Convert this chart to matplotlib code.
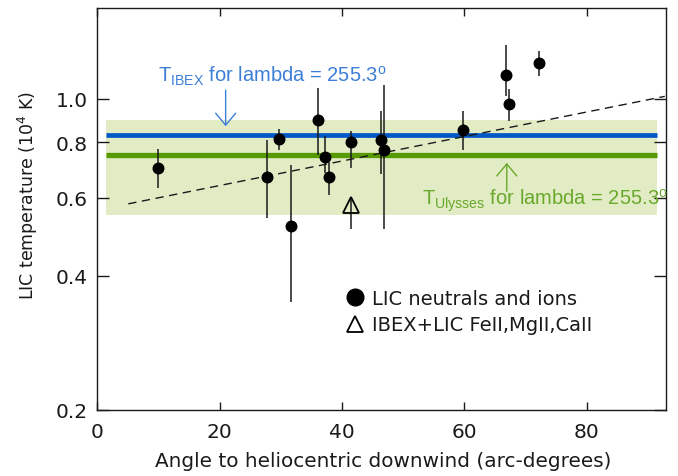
import matplotlib
matplotlib.use('Agg')
import matplotlib.pyplot as plt
from matplotlib.ticker import FixedLocator, NullLocator, FixedFormatter

plt.rcParams['mathtext.default'] = 'regular'

# LIC neutrals and ions: angle, temperature (1e4 K), error bounds
angle = [10.0, 27.8, 29.7, 31.7, 36.1, 37.2, 37.9, 41.4, 46.3, 46.9, 59.7, 66.8, 67.3, 72.2]
temp = [0.698, 0.669, 0.811, 0.519, 0.898, 0.739, 0.669, 0.799, 0.810, 0.769, 0.853, 1.130, 0.976, 1.205]
temp_lo = [0.631, 0.540, 0.766, 0.349, 0.749, 0.680, 0.607, 0.698, 0.679, 0.510, 0.769, 1.013, 0.890, 1.124]
temp_hi = [0.770, 0.810, 0.856, 0.709, 1.059, 0.824, 0.720, 0.849, 0.938, 1.077, 0.938, 1.318, 1.053, 1.284]

# IBEX+LIC FeII,MgII,CaII
tri_angle = [41.4]
tri_temp = [0.578]
tri_lo = [0.510]
tri_hi = [0.595]

# reference temperatures
t_ibex = 0.83
t_ulysses = 0.747
band_lo, band_hi = 0.547, 0.898
band_x = [1.5, 91.5]

# dashed trend line
fit_x = [5.1, 92.7]
fit_t = [0.581, 1.013]

yticks = [0.2, 0.4, 0.6, 0.8, 1.0]
ytick_labels = ['0.2', '0.4', '0.6', '0.8', '1.0']
xticks = [0, 20, 40, 60, 80]

blue = '#0058c8'
blue_txt = '#3d7fd6'
green = '#569a00'
green_txt = '#6aa82c'
ink = '#1a1a1a'
helv = 'Liberation Sans'

fig = plt.figure(figsize=(6.78, 4.77), dpi=100)
ax = fig.add_axes([0.1431, 0.1384, 0.8392, 0.8427])
ax.set_yscale('log')

ax.fill_between(band_x, band_lo, band_hi, color='#e2ecc4', lw=0, zorder=1)
ax.hlines(t_ibex, band_x[0], band_x[1], color=blue, lw=3.4, zorder=2)
ax.hlines(t_ulysses, band_x[0], band_x[1], color=green, lw=3.8, zorder=2)
ax.plot(fit_x, fit_t, color=ink, lw=1.0, dashes=(6, 4), zorder=3)

yerr = [[t - lo for t, lo in zip(temp, temp_lo)], [hi - t for t, hi in zip(temp, temp_hi)]]
ax.errorbar(angle, temp, yerr=yerr, fmt='none', ecolor=ink, elinewidth=1.1, capsize=0, zorder=4)
ax.plot(angle, temp, 'o', color='black', ms=7.6, zorder=5, label='LIC neutrals and ions')

tri_err = [[t - lo for t, lo in zip(tri_temp, tri_lo)], [hi - t for t, hi in zip(tri_temp, tri_hi)]]
ax.errorbar(tri_angle, tri_temp, yerr=tri_err, fmt='none', ecolor=ink, elinewidth=1.1, capsize=0, zorder=4)
ax.plot(tri_angle, tri_temp, '^', mfc='none', mec='black', mew=1.3, ms=11, zorder=5,
        label='IBEX+LIC FeII,MgII,CaII')

# annotations
ax.text(9.95, 1.094, r'T$_{IBEX}$ for lambda = 255.3$^{o}$', color=blue_txt, fontsize=14.5,
        family=helv, va='baseline', ha='left')
ax.annotate('', xy=(21.0, 0.868), xytext=(21.0, 1.046),
            arrowprops=dict(arrowstyle='->, head_length=0.86, head_width=0.72', color=blue_txt,
                            lw=1.0, shrinkA=0, shrinkB=0, mutation_scale=10))
ax.text(53.0, 0.578, r'T$_{Ulysses}$ for lambda = 255.3$^{o}$', color=green_txt, fontsize=14.5,
        family=helv, va='baseline', ha='left')
ax.annotate('', xy=(66.9, 0.718), xytext=(66.9, 0.62),
            arrowprops=dict(arrowstyle='->, head_length=0.86, head_width=0.72', color=green_txt,
                            lw=1.0, shrinkA=0, shrinkB=0, mutation_scale=10))

leg = ax.legend(loc='upper left', bbox_to_anchor=(0.436, 0.302), frameon=False, fontsize=14,
                handlelength=1.0, handletextpad=0.4, labelspacing=0.4, borderpad=0, borderaxespad=0)
for h in leg.legend_handles:
    h.set_markersize(12)
for t in leg.get_texts():
    t.set_color(ink)

ax.set_xlim(0, 92.9)
ax.set_ylim(0.2, 1.6)
ax.yaxis.set_major_locator(FixedLocator(yticks))
ax.yaxis.set_major_formatter(FixedFormatter(ytick_labels))
ax.yaxis.set_minor_locator(NullLocator())
ax.set_xticks(xticks)

ax.tick_params(axis='both', which='both', direction='in', top=True, right=True,
               width=1.0, colors=ink, labelsize=14.5)
ax.tick_params(axis='y', length=8.4, pad=6.5)
ax.tick_params(axis='x', length=5.8, pad=8.5)
for s in ax.spines.values():
    s.set_linewidth(1.0)
    s.set_color(ink)

ax.set_xlabel('Angle to heliocentric downwind (arc-degrees)', fontsize=14.4, color=ink)
ax.set_ylabel('LIC temperature (10$^4$ K)', fontsize=12.5, color=ink)
ax.xaxis.set_label_coords(0.5035, -0.103)
ax.yaxis.set_label_coords(-0.10, 0.537)

fig.savefig('out.png', dpi=100)
